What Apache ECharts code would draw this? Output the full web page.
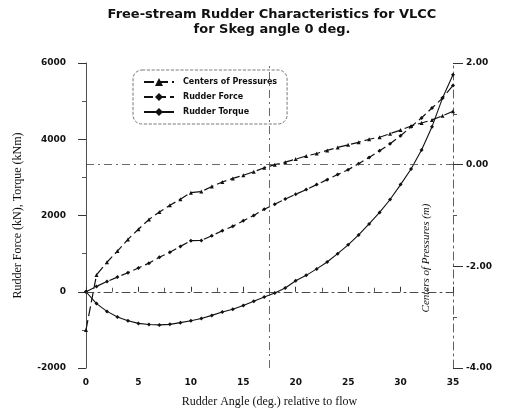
<!DOCTYPE html>
<html>
<head>
<meta charset="utf-8">
<script src="https://cdn.jsdelivr.net/npm/echarts@6/dist/echarts.min.js"></script>
<style>
  html, body { margin: 0; padding: 0; background: #fff; }
  #chart { width: 506px; height: 413px; }
</style>
</head>
<body>
<div id="chart"></div>
<script>
// rudder angle (deg.)
const angles = [0, 1, 2, 3, 4, 5, 6, 7, 8, 9, 10, 11, 12, 13, 14, 15, 16, 17,
  18, 19, 20, 21, 22, 23, 24, 25, 26, 27, 28, 29, 30, 31, 32, 33, 34, 35];

// centers of pressures (m), right axis
const centersOfPressure = [-3.25, -2.17, -1.92, -1.70, -1.47, -1.27, -1.08, -0.93,
  -0.80, -0.68, -0.55, -0.53, -0.43, -0.34, -0.27, -0.21, -0.14, -0.06, 0.00,
  0.05, 0.11, 0.17, 0.22, 0.28, 0.34, 0.39, 0.44, 0.50, 0.54, 0.61, 0.68, 0.76,
  0.82, 0.88, 0.96, 1.05];

// rudder force (kN)
const rudderForce = [0, 140, 270, 385, 500, 625, 750, 905, 1035, 1190, 1340, 1345,
  1470, 1600, 1715, 1860, 2000, 2165, 2295, 2430, 2555, 2680, 2810, 2940, 3075,
  3200, 3360, 3520, 3700, 3880, 4090, 4330, 4560, 4820, 5080, 5410];

// rudder torque (kNm)
const rudderTorque = [0, -310, -515, -660, -760, -830, -860, -870, -855, -810, -760,
  -700, -620, -530, -460, -360, -250, -140, -30, 100, 290, 430, 600, 780, 1000,
  1230, 1490, 1780, 2080, 2420, 2810, 3220, 3720, 4330, 5080, 5690];

const dashDot = [8, 4, 2, 4];
const ink = '#111';

function pairs(ys) {
  return angles.map((a, i) => [a, ys[i]]);
}

function refLines(items) {
  return {
    silent: true,
    symbol: 'none',
    label: { show: false },
    lineStyle: { color: '#444', width: 0.8, type: dashDot },
    data: items
  };
}

const chart = echarts.init(document.getElementById('chart'));

chart.setOption({
  animation: false,
  backgroundColor: '#fff',
  title: {
    text: 'Free-stream Rudder Characteristics for VLCC\nfor Skeg angle 0 deg.',
    left: 267,
    top: 2,
    textAlign: 'center',
    textStyle: {
      fontFamily: 'DejaVu Sans',
      fontWeight: 'bold',
      fontSize: 13,
      lineHeight: 15,
      color: ink
    }
  },
  legend: {
    orient: 'vertical',
    left: 133,
    top: 70,
    padding: [8, 10, 8, 10],
    itemWidth: 30,
    itemHeight: 10,
    itemGap: 7,
    borderColor: '#555',
    borderWidth: 0.8,
    borderType: 'dashed',
    borderRadius: 9,
    textStyle: {
      fontFamily: 'DejaVu Sans',
      fontWeight: 'bold',
      fontSize: 8,
      color: ink,
      padding: [0, 0, 0, 4]
    },
    data: ['Centers of Pressures', 'Rudder Force', 'Rudder Torque']
  },
  grid: { left: 86, right: 53, top: 63, bottom: 43 },
  xAxis: {
    type: 'value',
    min: 0,
    max: 35,
    interval: 5,
    name: 'Rudder Angle (deg.) relative to flow',
    nameLocation: 'middle',
    nameGap: 28,
    nameTextStyle: { fontFamily: 'Liberation Serif', fontSize: 12, color: ink },
    axisLine: { lineStyle: { color: '#333', width: 0.8, type: dashDot } },
    axisTick: { show: true, inside: true, length: 5, lineStyle: { color: '#333' } },
    minorTick: { show: true, splitNumber: 2, length: 4, lineStyle: { color: '#555' } },
    axisLabel: {
      margin: 10,
      fontFamily: 'DejaVu Sans',
      fontWeight: 'bold',
      fontSize: 9,
      color: ink
    },
    splitLine: { show: false }
  },
  yAxis: [
    {
      type: 'value',
      min: -2000,
      max: 6000,
      interval: 2000,
      name: 'Rudder Force (kN), Torque (kNm)',
      nameLocation: 'middle',
      nameGap: 62,
      nameTextStyle: { fontFamily: 'Liberation Serif', fontSize: 12, color: ink },
      axisLine: { show: true, lineStyle: { color: '#222', width: 0.8 } },
      axisTick: { show: true, length: 8, lineStyle: { color: '#333' } },
      minorTick: { show: true, splitNumber: 2, length: 4, lineStyle: { color: '#555' } },
      axisLabel: {
        margin: 20,
        fontFamily: 'DejaVu Sans',
        fontWeight: 'bold',
        fontSize: 9,
        color: ink,
        formatter: (v) => String(v)
      },
      splitLine: { show: false }
    },
    {
      type: 'value',
      position: 'right',
      min: -4,
      max: 2,
      interval: 2,
      axisLine: { show: true, lineStyle: { color: '#333', width: 0.8, type: dashDot } },
      axisTick: { show: true, length: 10, lineStyle: { color: '#333' } },
      minorTick: { show: true, splitNumber: 2, length: 4, lineStyle: { color: '#555' } },
      axisLabel: {
        margin: 13,
        fontFamily: 'DejaVu Sans',
        fontWeight: 'bold',
        fontSize: 9,
        color: ink,
        formatter: (v) => v.toFixed(2)
      },
      splitLine: { show: false }
    }
  ],
  graphic: [
    {
      type: 'text',
      x: 426,
      y: 258,
      rotation: Math.PI / 2,
      style: {
        text: 'Centers of Pressures (m)',
        fontFamily: 'Liberation Serif',
        fontStyle: 'italic',
        fontSize: 11,
        fill: ink,
        align: 'center',
        verticalAlign: 'middle'
      }
    }
  ],
  series: [
    {
      name: 'Centers of Pressures',
      type: 'line',
      yAxisIndex: 1,
      data: pairs(centersOfPressure),
      symbol: 'triangle',
      symbolSize: 4,
      itemStyle: { color: ink },
      lineStyle: { color: ink, width: 1.2, type: [10, 4] },
      markLine: refLines([{ yAxis: 0 }])
    },
    {
      name: 'Rudder Force',
      type: 'line',
      data: pairs(rudderForce),
      symbol: 'diamond',
      symbolSize: 4,
      itemStyle: { color: ink },
      lineStyle: { color: ink, width: 1.2, type: [9, 4] }
    },
    {
      name: 'Rudder Torque',
      type: 'line',
      data: pairs(rudderTorque),
      symbol: 'diamond',
      symbolSize: 4,
      itemStyle: { color: ink },
      lineStyle: { color: ink, width: 1.1 },
      markLine: refLines([{ yAxis: 0 }, { xAxis: 17.5 }])
    }
  ]
});

window.addEventListener('resize', () => chart.resize());
</script>
</body>
</html>
